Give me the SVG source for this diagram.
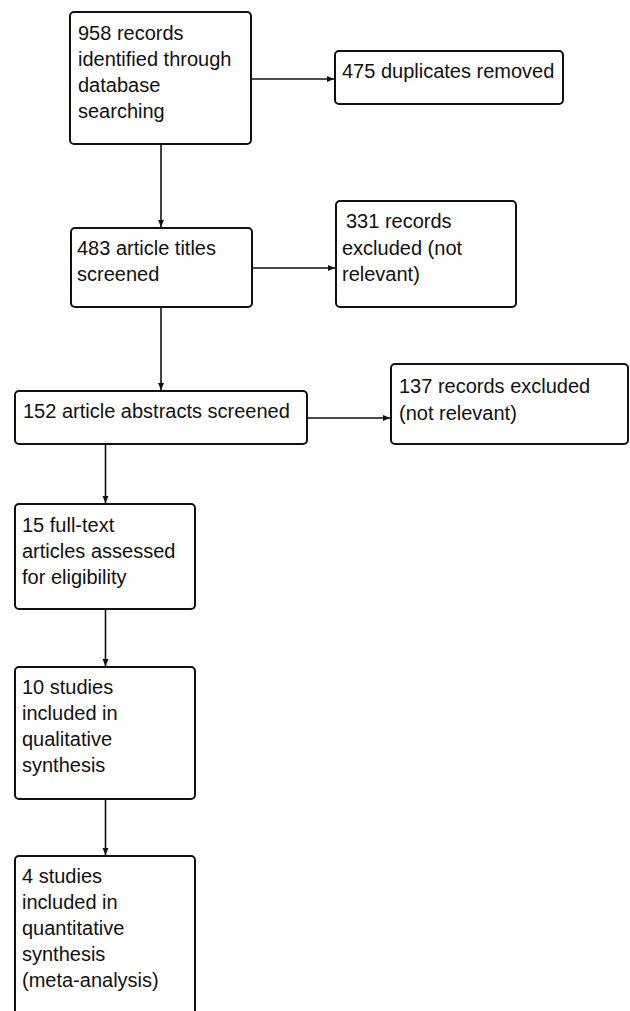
<svg xmlns="http://www.w3.org/2000/svg" width="630" height="1011" viewBox="0 0 630 1011">
<style>
.box{fill:#fff;stroke:#111;stroke-width:2}
.t{font-family:"Liberation Sans",Arial,sans-serif;font-size:20px;fill:#111}
.c{stroke:#111;stroke-width:1.6;fill:none;marker-end:url(#ah)}
</style>
<defs>
<marker id="ah" markerUnits="userSpaceOnUse" markerWidth="8" markerHeight="8" refX="7" refY="4" orient="auto">
<path d="M0,1 L7,4 L0,7 Z" fill="#111"/>
</marker>
</defs>
<rect width="630" height="1011" fill="#fff"/>
<g id="connectors">
<line class="c" x1="161" y1="145" x2="161" y2="227"/>
<line class="c" x1="252" y1="79" x2="334" y2="79"/>
<line class="c" x1="253" y1="268" x2="335" y2="268"/>
<line class="c" x1="161" y1="308" x2="161" y2="390"/>
<line class="c" x1="308" y1="418" x2="390" y2="418"/>
<line class="c" x1="105.5" y1="445" x2="105.5" y2="503"/>
<line class="c" x1="105.5" y1="610" x2="105.5" y2="666"/>
<line class="c" x1="105.5" y1="800" x2="105.5" y2="855"/>
</g>
<g id="n1">
<rect class="box" x="70" y="12" width="181" height="132" rx="4"/>
<text class="t" x="78" y="40">958 records</text>
<text class="t" x="78" y="66">identified through</text>
<text class="t" x="78" y="92">database</text>
<text class="t" x="78" y="118">searching</text>
</g>
<g id="n2">
<rect class="box" x="335" y="51" width="228" height="53" rx="4"/>
<text class="t" x="342" y="78">475 duplicates removed</text>
</g>
<g id="n3">
<rect class="box" x="71" y="228" width="181" height="79" rx="4"/>
<text class="t" x="77" y="255">483 article titles</text>
<text class="t" x="77" y="281">screened</text>
</g>
<g id="n4">
<rect class="box" x="336" y="201" width="180" height="106" rx="4"/>
<text class="t" x="346" y="228">331 records</text>
<text class="t" x="342" y="255">excluded (not</text>
<text class="t" x="342" y="281">relevant)</text>
</g>
<g id="n5">
<rect class="box" x="15" y="391" width="292" height="53" rx="4"/>
<text class="t" x="23" y="418">152 article abstracts screened</text>
</g>
<g id="n6">
<rect class="box" x="391" y="364" width="237" height="80" rx="4"/>
<text class="t" x="399" y="393">137 records excluded</text>
<text class="t" x="399" y="420">(not relevant)</text>
</g>
<g id="n7">
<rect class="box" x="15" y="504" width="180" height="105" rx="4"/>
<text class="t" x="22" y="532">15 full-text</text>
<text class="t" x="22" y="558">articles assessed</text>
<text class="t" x="22" y="584">for eligibility</text>
</g>
<g id="n8">
<rect class="box" x="15" y="667" width="180" height="132" rx="4"/>
<text class="t" x="22" y="694">10 studies</text>
<text class="t" x="22" y="720">included in</text>
<text class="t" x="22" y="746">qualitative</text>
<text class="t" x="22" y="772">synthesis</text>
</g>
<g id="n9">
<rect class="box" x="15" y="856" width="180" height="170" rx="4"/>
<text class="t" x="22" y="883">4 studies</text>
<text class="t" x="22" y="909">included in</text>
<text class="t" x="22" y="935">quantitative</text>
<text class="t" x="22" y="961">synthesis</text>
<text class="t" x="22" y="987">(meta-analysis)</text>
</g>
</svg>
